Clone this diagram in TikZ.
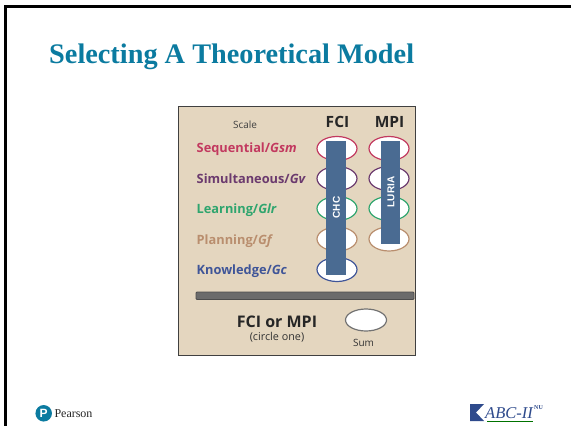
\documentclass[tikz,border=0pt]{standalone}
\usepackage{fontspec}
\setmainfont{Liberation Serif}
\setsansfont{Open Sans}
\newfontfamily\lib{Liberation Sans}
\usetikzlibrary{calc,shapes.geometric}
\definecolor{tan}{HTML}{E4D6BF}
\definecolor{barblue}{HTML}{4A6B92}
\definecolor{teal}{HTML}{0B7BA0}
\definecolor{cseq}{HTML}{C2395F}
\definecolor{csim}{HTML}{6B3A6E}
\definecolor{clrn}{HTML}{2FA56E}
\definecolor{cpln}{HTML}{B98E6E}
\definecolor{ckno}{HTML}{3F5598}
\definecolor{logoblue}{HTML}{2E4A8C}
\tikzset{x=1pt,y=-1pt,
 oval/.style={ellipse,draw,fill=white,line width=1.2pt,minimum width=40pt,minimum height=24pt,inner sep=0pt},
 scale label/.style={anchor=base west,font=\sffamily\bfseries\fontsize{12.8}{14}\selectfont,inner sep=0pt},
 header/.style={font=\sffamily\bfseries\fontsize{15.5}{17}\selectfont,text=black!85},
 small/.style={font=\sffamily\fontsize{10}{12}\selectfont,text=black!80},
 bluebar/.style={fill=barblue,draw=none},
 barlabel/.style={font=\lib\bfseries\fontsize{10}{11}\selectfont,text=white,rotate=90,inner sep=0pt}}
\begin{document}
\begin{tikzpicture}
\useasboundingbox (0,0) rectangle (571,431);
\fill[white] (0,0) rectangle (571,431);
\fill[black] (4,5) rectangle (571,7.5);
\fill[black] (4,5) rectangle (6.5,426);
\node[anchor=base west,inner sep=0pt,font=\bfseries\fontsize{28.3}{32}\selectfont,text=teal] (title) at (49,63) {Selecting A Theoretical Model};
\node[draw=black!75,fill=tan,line width=0.9pt,anchor=north west,minimum width=237pt,minimum height=249pt,inner sep=0pt] (panel) at (177.7,105.5) {};
\node[small,text=black!75] (scale) at (245,124.5) {Scale};
\node[header] (fci) at (337.5,122) {FCI};
\node[header] (mpi) at (389.5,122) {MPI};
\node[scale label,text=cseq] (l1) at (196.5,152.7) {Sequential/\textit{Gsm}};
\node[scale label,text=csim] (l2) at (196.5,183) {Simultaneous/\textit{Gv}};
\node[scale label,text=clrn] (l3) at (196.5,213) {Learning/\textit{Glr}};
\node[scale label,text=cpln] (l4) at (196.5,244) {Planning/\textit{Gf}};
\node[scale label,text=ckno] (l5) at (196.5,274) {Knowledge/\textit{Gc}};
\node[oval,draw=cseq] (a1) at (337,148.5) {};
\node[oval,draw=csim] (a2) at (337,178.5) {};
\node[oval,draw=clrn] (a3) at (337,208.5) {};
\node[oval,draw=cpln] (a4) at (337,239) {};
\node[oval,draw=ckno] (a5) at (337,269.5) {};
\node[oval,draw=cseq] (b1) at (389,148.5) {};
\node[oval,draw=csim] (b2) at (389,178.5) {};
\node[oval,draw=clrn] (b3) at (389,208.5) {};
\node[oval,draw=cpln] (b4) at (389,239) {};
\fill[bluebar] (326,141) rectangle (346,274.5);
\fill[bluebar] (381,141) rectangle (400,243.5);
\node[barlabel] (chc) at (336.5,207.5) {CHC};
\node[barlabel] (luria) at (391,192) {LURIA};
\fill[fill=black!58,draw=black!70,line width=0.8pt,rounded corners=1pt] (196,292) rectangle (414,299.5);
\node[font=\sffamily\bfseries\fontsize{16}{18}\selectfont,text=black!85] (fm) at (277,322) {FCI or MPI};
\node[small,font=\sffamily\fontsize{10.8}{12}\selectfont] (co) at (277,337) {(circle one)};
\node[oval,draw=black!55,minimum width=41pt,minimum height=22pt] (sum) at (366,320) {};
\node[small] (sl) at (363.5,343) {Sum};
\node[circle,fill=teal,minimum size=16.5pt,inner sep=0pt,font=\lib\bfseries\fontsize{12}{13}\selectfont,text=white] (plogo) at (43.7,413.3) {P};
\node[anchor=west,inner sep=0pt,font=\fontsize{12}{14}\selectfont,text=black!85] (ptext) at (54.3,413.5) {Pearson};
\fill[logoblue] (470,404) -- (484,404) -- (476,412.5) -- (484,421) -- (470,421) -- cycle;
\node[anchor=west,inner sep=0pt,font=\itshape\fontsize{16.5}{18}\selectfont,text=logoblue] (abc) at (485,413.5) {ABC-II};
\node[anchor=west,inner sep=0pt,font=\bfseries\fontsize{6}{7}\selectfont,text=logoblue] (nu) at (534,408) {NU};
\draw[green!45!black,line width=0.8pt] (487,421.5) -- (533,421.5);
\end{tikzpicture}
\end{document}
